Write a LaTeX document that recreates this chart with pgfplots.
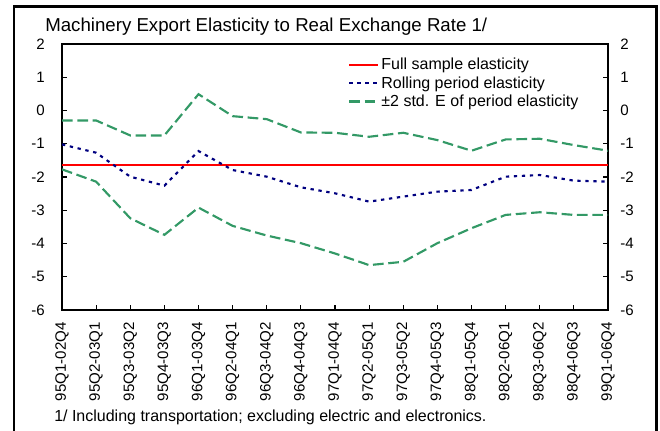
\documentclass[border=0pt]{standalone}
\usepackage{fontspec}
\setmainfont{Liberation Sans}
\usepackage{pgfplots}
\pgfplotsset{compat=1.18}
\definecolor{fullred}{RGB}{255,0,0}
\definecolor{rollblue}{RGB}{0,0,128}
\definecolor{sdgreen}{RGB}{51,153,102}
\begin{document}
\begin{tikzpicture}
\useasboundingbox (0,0) rectangle (495pt,322.5pt);
\draw[line width=2pt] (10.4pt,-10pt) -- (10.4pt,317.4pt) -- (492.6pt,317.4pt) -- (492.6pt,-10pt);
\node[anchor=base west, inner sep=0pt, font=\fontsize{14pt}{16pt}\selectfont] at (33.75pt,298.9pt) {Machinery Export Elasticity to Real Exchange Rate 1/};
\node[anchor=base west, inner sep=0pt, font=\fontsize{12pt}{14pt}\selectfont] at (40.5pt,6.4pt) {1/ Including transportation; excluding electric and electronics.};
\begin{axis}[
  at={(46.5pt,90pt)}, anchor=south west,
  scale only axis, width=409.5pt, height=199.5pt,
  xmin=0, xmax=16, ymin=-6, ymax=2,
  xtick={0,...,16},
  xticklabels={95Q1-02Q4,95Q2-03Q1,95Q3-03Q2,95Q4-03Q3,96Q1-03Q4,96Q2-04Q1,96Q3-04Q2,96Q4-04Q3,97Q1-04Q4,97Q2-05Q1,97Q3-05Q2,97Q4-05Q3,98Q1-05Q4,98Q2-06Q1,98Q3-06Q2,98Q4-06Q3,99Q1-06Q4},
  ytick={-6,...,2},
  tick align=inside, major tick length=4pt,
  xtick pos=bottom, ytick pos=both,
  yticklabel pos=left,
  axis line style={line width=1.1pt},
  every tick/.style={black, line width=0.8pt},
  /pgf/number format/assume math mode=true,
  ticklabel style={font=\fontsize{11.3pt}{13pt}\selectfont, inner sep=0pt},
  xticklabel style={rotate=90, anchor=east},
  xticklabel shift=9pt,
  yticklabel shift=12.75pt,
  legend style={at={(0.5238,0.955)}, anchor=north west, draw=none, fill=none,
    font=\fontsize{12pt}{14pt}\selectfont, inner sep=0pt, row sep=0.5pt,
    nodes={inner sep=1.5pt}},
  legend cell align=left,
  legend image code/.code={\draw[#1] (0pt,0pt) -- (21.75pt,0pt);},
]
\addplot[fullred, line width=1.5pt] coordinates {(0,-1.64) (16,-1.64)};
\addlegendentry{Full sample elasticity}
\addplot[rollblue, line width=1.6pt, dash pattern=on 2.5pt off 3.5pt] coordinates {
(0,-1.02) (1,-1.27) (2,-1.99) (3,-2.26) (4,-1.22) (5,-1.79) (6,-1.99) (7,-2.31) (8,-2.49)
(9,-2.74) (10,-2.59) (11,-2.44) (12,-2.39) (13,-1.99) (14,-1.94) (15,-2.11) (16,-2.14)};
\addlegendentry{Rolling period elasticity}
\addplot[sdgreen, line width=1.6pt, dash pattern=on 8pt off 3.5pt] coordinates {
(0,-0.30) (1,-0.30) (2,-0.75) (3,-0.75) (4,0.49) (5,-0.17) (6,-0.26) (7,-0.66) (8,-0.67)
(9,-0.79) (10,-0.67) (11,-0.89) (12,-1.21) (13,-0.87) (14,-0.85) (15,-1.04) (16,-1.21)};
\addlegendentry{±2 std. E of period elasticity}
\addplot[sdgreen, line width=1.6pt, dash pattern=on 8pt off 3.5pt, forget plot] coordinates {
(0,-1.77) (1,-2.14) (2,-3.24) (3,-3.74) (4,-2.92) (5,-3.47) (6,-3.76) (7,-3.99) (8,-4.30)
(9,-4.65) (10,-4.55) (11,-3.99) (12,-3.54) (13,-3.14) (14,-3.06) (15,-3.14) (16,-3.14)};
\end{axis}
\begin{axis}[
  at={(46.5pt,90pt)}, anchor=south west,
  scale only axis, width=409.5pt, height=199.5pt,
  xmin=0, xmax=16, ymin=-6, ymax=2,
  ytick={-6,...,2},
  hide x axis,
  axis line style={draw=none},
  ytick style={draw=none},
  yticklabel pos=right,
  /pgf/number format/assume math mode=true,
  ticklabel style={font=\fontsize{11.3pt}{13pt}\selectfont, inner sep=0pt},
  yticklabel shift=9pt,
]
\end{axis}
\end{tikzpicture}
\end{document}
